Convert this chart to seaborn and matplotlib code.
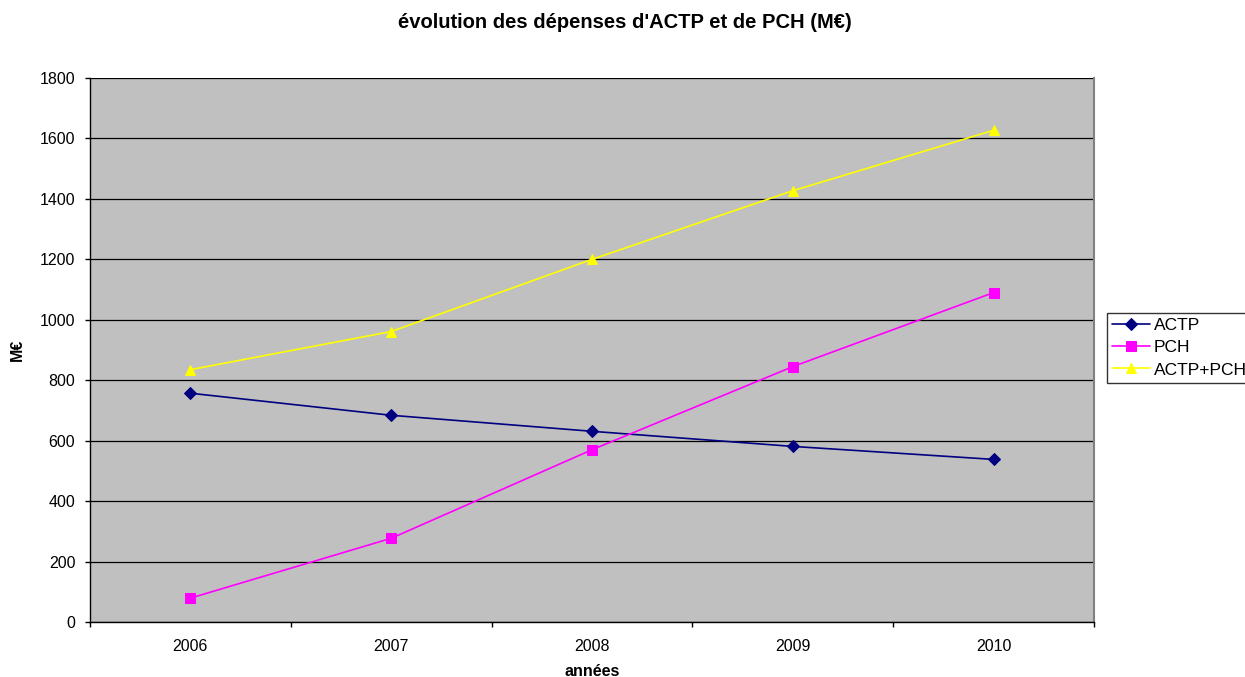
import matplotlib
matplotlib.use("Agg")
import matplotlib.pyplot as plt
import seaborn as sns
import pandas as pd
from matplotlib.ticker import FixedLocator, MultipleLocator

# Expenditure in millions of euros per year
years = ["2006", "2007", "2008", "2009", "2010"]
actp = [757, 684, 631, 581, 538]
pch = [79, 277, 570, 845, 1090]
actp_pch = [835, 961, 1200, 1427, 1627]

series_names = ["ACTP", "PCH", "ACTP+PCH"]
series_colors = ["#000080", "#FF00FF", "#FFFF00"]
series_markers = ["D", "s", "^"]
series_sizes = [6, 7, 7.5]

rows = []
for name, vals in zip(series_names, [actp, pch, actp_pch]):
    for i, (y, v) in enumerate(zip(years, vals)):
        rows.append({"pos": i, "année": y, "série": name, "valeur": v})
df = pd.DataFrame(rows)

sns.set_theme(style="white")
plt.rcParams["font.family"] = ["Liberation Sans", "DejaVu Sans"]
plt.rcParams["text.color"] = "black"
plt.rcParams["axes.labelcolor"] = "black"

fig = plt.figure(figsize=(12.45, 6.77), dpi=100)
ax = fig.add_axes([90 / 1245, 1 - 622 / 677, (1094 - 90) / 1245, (622 - 78) / 677])
ax.set_facecolor("#C0C0C0")

for name, color, marker, ms in zip(series_names, series_colors, series_markers, series_sizes):
    sub = df[df["série"] == name]
    sns.lineplot(data=sub, x="pos", y="valeur", ax=ax, color=color, marker=marker,
                 markersize=ms, markeredgecolor=color, linewidth=1.2, label=name,
                 zorder=3)

ax.set_xlim(-0.5, 4.5)
ax.set_ylim(0, 1800)
ax.yaxis.set_major_locator(MultipleLocator(200))
ax.set_xticks(range(len(years)))
ax.set_xticklabels(years)
ax.xaxis.set_minor_locator(FixedLocator([-0.5, 0.5, 1.5, 2.5, 3.5, 4.5]))
ax.tick_params(axis="x", which="major", length=0, pad=12, labelsize=11.5, colors="black")
ax.tick_params(axis="x", which="minor", length=3.6, width=1, color="black", direction="out", bottom=True)
ax.tick_params(axis="y", length=3.6, width=1, color="black", direction="out", left=True,
               labelsize=11.5, colors="black", pad=7)

ax.grid(axis="y", color="black", linewidth=0.9, zorder=1)
ax.set_axisbelow(True)
for side in ["left", "bottom"]:
    ax.spines[side].set_color("black")
    ax.spines[side].set_linewidth(1)
ax.spines["top"].set_visible(False)
ax.spines["right"].set_color("#808080")
ax.spines["right"].set_linewidth(1.5)

ax.set_xlabel("années", fontsize=11.5, fontweight="bold", color="black")
ax.xaxis.set_label_coords(0.5, (622 - 664) / 544)
ax.set_ylabel("M€", fontsize=11.5, fontweight="bold", color="black")
ax.yaxis.set_label_coords((25 - 90) / 1004, 0.5)
fig.suptitle("évolution des dépenses d'ACTP et de PCH (M€)", fontsize=14.5,
             fontweight="bold", color="black", x=625 / 1245, y=1 - 22 / 677, va="center")

leg = ax.legend(loc="upper left", bbox_to_anchor=(1107 / 1245, 1 - 313 / 677),
                bbox_transform=fig.transFigure, frameon=True, fancybox=False,
                fontsize=12.5, handlelength=2.2, handletextpad=0.2, borderpad=0.3,
                labelspacing=0.4, borderaxespad=0, numpoints=1)
leg.get_frame().set_edgecolor("black")
leg.get_frame().set_linewidth(1)
leg.get_frame().set_facecolor("white")
for t in leg.get_texts():
    t.set_color("black")

fig.savefig("out.png", dpi=100, facecolor="white")
